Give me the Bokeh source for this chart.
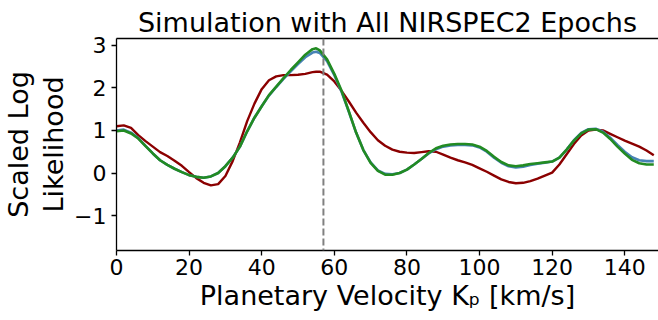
from bokeh.plotting import figure
from bokeh.models import (Range1d, FixedTicker, LinearAxis, Span,
                          CustomJSTickFormatter, ColumnDataSource)
from bokeh.embed import file_html
from bokeh.resources import INLINE

# ---------------- data ----------------
kp = [0, 2, 4, 6, 8, 10, 12, 14, 16, 18, 20, 22, 24, 26, 28, 30, 32, 34, 36, 38,
      40, 42, 44, 46, 48, 50, 52, 54, 55, 56, 58, 60, 62, 64, 66, 68, 70, 72, 74, 76,
      78, 80, 82, 84, 86, 88, 90, 92, 94, 96, 98, 100, 102, 104, 106, 108, 110, 112,
      114, 116, 118, 120, 122, 124, 126, 128, 130, 132, 134, 136, 138, 140, 142, 144,
      146, 148]

red = [1.10, 1.12, 1.06, 0.89, 0.75, 0.62, 0.49, 0.40, 0.29, 0.17, 0.02, -0.12,
       -0.23, -0.29, -0.26, -0.07, 0.28, 0.72, 1.22, 1.63, 1.97, 2.18, 2.27, 2.30,
       2.30, 2.31, 2.33, 2.37, 2.38, 2.38, 2.31, 2.15, 1.93, 1.68, 1.42, 1.18, 0.96,
       0.77, 0.64, 0.55, 0.50, 0.48, 0.47, 0.49, 0.51, 0.50, 0.43, 0.36, 0.30, 0.25,
       0.19, 0.11, 0.03, -0.06, -0.15, -0.21, -0.24, -0.23, -0.19, -0.13, -0.06,
       0.01, 0.20, 0.44, 0.68, 0.88, 1.00, 1.02, 1.00, 0.92, 0.84, 0.76, 0.69, 0.62,
       0.53, 0.42]

blue = [1.00, 1.02, 0.95, 0.82, 0.64, 0.46, 0.30, 0.19, 0.10, 0.02, -0.05, -0.09,
        -0.11, -0.08, 0.00, 0.16, 0.36, 0.62, 0.98, 1.30, 1.57, 1.82, 2.02, 2.21,
        2.39, 2.56, 2.72, 2.83, 2.85, 2.82, 2.63, 2.30, 1.91, 1.44, 0.95, 0.54, 0.25,
        0.06, -0.02, -0.03, 0.00, 0.08, 0.20, 0.33, 0.46, 0.56, 0.62, 0.65, 0.66,
        0.66, 0.65, 0.60, 0.50, 0.36, 0.24, 0.16, 0.13, 0.15, 0.19, 0.22, 0.24, 0.27,
        0.36, 0.55, 0.77, 0.94, 1.03, 1.04, 0.97, 0.83, 0.66, 0.50, 0.37, 0.30, 0.28,
        0.28]

green = [0.98, 1.00, 0.93, 0.81, 0.63, 0.46, 0.30, 0.19, 0.10, 0.02, -0.05, -0.09,
         -0.11, -0.08, 0.00, 0.16, 0.36, 0.62, 0.98, 1.30, 1.57, 1.83, 2.03, 2.23,
         2.42, 2.60, 2.78, 2.91, 2.93, 2.88, 2.67, 2.33, 1.93, 1.45, 0.95, 0.54, 0.24,
         0.05, -0.04, -0.04, 0.00, 0.08, 0.20, 0.33, 0.47, 0.58, 0.64, 0.67, 0.68,
         0.68, 0.67, 0.62, 0.52, 0.38, 0.26, 0.18, 0.16, 0.18, 0.21, 0.23, 0.25, 0.27,
         0.36, 0.55, 0.76, 0.93, 1.02, 1.03, 0.95, 0.80, 0.62, 0.46, 0.31, 0.23, 0.20,
         0.20]

kp_true = 57
x_ticks = [0, 20, 40, 60, 80, 100, 120, 140]
y_ticks = [-1, 0, 1, 2, 3]

title_text = "Simulation with All NIRSPEC2 Epochs"
ylabel_text = "Scaled Log\nLikelihood"
xlabel_text = "Planetary Velocity K\u209a [km/s]"

# ---------------- layout geometry ----------------
W, H = 658, 320
FL, FR, FT, FB = 115, 658, 38, 250
X0, X1 = 0, 149.3
Y0, Y1 = -1.82, 3.16

FONT = "DejaVu Sans"

p = figure(width=W, height=H, output_backend="svg", toolbar_location=None,
           x_range=Range1d(X0, X1), y_range=Range1d(Y0, Y1),
           min_border_left=FL, min_border_right=W - FR,
           min_border_top=FT, min_border_bottom=H - FB,
           title=title_text)
p.outline_line_color = None
p.grid.visible = False
p.background_fill_color = "white"
p.border_fill_color = "white"

p.title.align = "center"
p.title.text_font = FONT
p.title.text_font_size = "27px"
p.title.text_font_style = "normal"
p.title.text_color = "black"
p.title.standoff = 2

src = ColumnDataSource(dict(kp=kp, red=red, blue=blue, green=green))
p.line("kp", "red", source=src, line_color="#8b0000", line_width=2.4)
p.line("kp", "blue", source=src, line_color="#4682b4", line_width=2.6)
p.line("kp", "green", source=src, line_color="#228b22", line_width=2.6)

p.add_layout(Span(location=kp_true, dimension="height", line_color="#808080",
                  line_dash="7 3", line_width=2))

fmt = CustomJSTickFormatter(code="return (tick < 0 ? '\u2212' : '') + Math.abs(tick).toString();")

for ax in (p.xaxis[0], p.yaxis[0]):
    ax.axis_line_color = "black"
    ax.axis_line_width = 1.3
    ax.major_tick_line_color = "black"
    ax.major_tick_line_width = 1.3
    ax.major_tick_out = 5
    ax.major_tick_in = 0
    ax.minor_tick_line_color = None
    ax.major_label_text_font = FONT
    ax.major_label_text_font_size = "22px"
    ax.major_label_text_color = "black"
    ax.formatter = fmt
    ax.axis_label_text_font = FONT
    ax.axis_label_text_font_size = "27px"
    ax.axis_label_text_font_style = "normal"
    ax.axis_label_text_color = "black"

xa, ya = p.xaxis[0], p.yaxis[0]
xa.ticker = FixedTicker(ticks=x_ticks)
ya.ticker = FixedTicker(ticks=y_ticks)
xa.major_label_standoff = 3
ya.major_label_standoff = 5
xa.axis_label = xlabel_text
xa.axis_label_standoff = 2
ya.axis_label = ylabel_text
ya.axis_label_standoff = 2
ya.axis_label_text_line_height = 1.12

top = LinearAxis(ticker=FixedTicker(ticks=[]), major_label_text_font_size="0px",
                 major_label_standoff=0, major_tick_out=0, major_tick_in=0,
                 axis_line_color="black", axis_line_width=1.3,
                 major_tick_line_color=None, minor_tick_line_color=None)
p.add_layout(top, "above")

open("out.html", "w").write(file_html(p, INLINE))
